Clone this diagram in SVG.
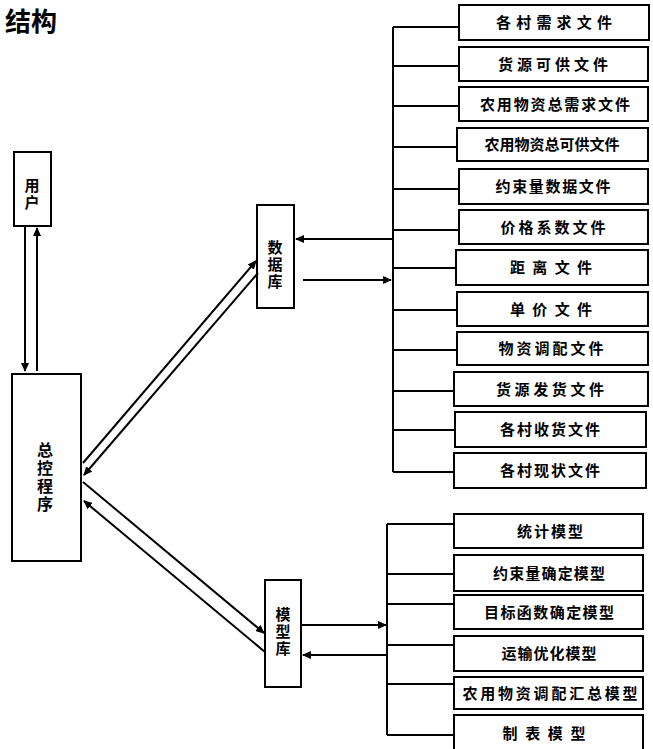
<svg xmlns="http://www.w3.org/2000/svg" width="653" height="749" viewBox="0 0 653 749">
<defs>
<marker id="ah" markerWidth="9" markerHeight="8" refX="8" refY="4" orient="auto" markerUnits="userSpaceOnUse">
<path d="M0,0 L9,4 L0,8 Z" fill="#000"/>
</marker>
<style>
rect{fill:#fff;stroke:#000;stroke-width:2}
.t{font-family:"Noto Sans CJK SC","Noto Sans",sans-serif;font-size:15px;font-weight:bold;fill:#000;text-anchor:middle}
.v{font-family:"Noto Sans CJK SC","Noto Sans",sans-serif;font-size:15px;font-weight:bold;fill:#000;text-anchor:middle;writing-mode:vertical-rl;letter-spacing:2px}
.l{stroke:#000;stroke-width:2;fill:none}
.a{stroke:#000;stroke-width:2;fill:none;marker-end:url(#ah)}
</style>
</defs>
<rect x="0" y="0" width="653" height="749" style="fill:#fff;stroke:none"/>
<text x="5" y="31" style="font-family:'Noto Sans CJK SC',sans-serif;font-size:26px;font-weight:bold">结构</text>

<g id="user"><rect x="14" y="152" width="37" height="74"/>
<text class="v" x="32" y="195">用户</text></g>

<g id="main"><rect x="12" y="374" width="69" height="187"/>
<text class="v" x="45" y="478" style="font-size:16px">总控程序</text></g>

<g id="db"><rect x="257" y="205" width="37" height="103"/>
<text class="v" x="275" y="265">数据库</text></g>

<g id="model"><rect x="265" y="580" width="36" height="107"/>
<text class="v" x="283" y="632">模型库</text></g>

<g id="connectors">
<path class="a" d="M25,226 V371"/>
<path class="a" d="M37,371 V228"/>
<path class="a" d="M83,463 L256,261"/>
<path class="a" d="M258,273 L84,475"/>
<path class="a" d="M83,482 L264,633"/>
<path class="a" d="M265,652 L84,501"/>
<path class="a" d="M392,239 H296"/>
<path class="a" d="M303,280 H391"/>
<path class="a" d="M301,625 H386"/>
<path class="a" d="M387,655 H303"/>
<path class="l" d="M393,27 V472"/>
<path class="l" d="M393,27 H459 M393,66 H459 M393,106 H459 M393,147 H457 M393,189 H459 M393,230 H459 M393,268 H456 M393,310 H457 M393,350 H457 M393,391 H454 M393,430 H455 M393,472 H454"/>
<path class="l" d="M387,524 V735"/>
<path class="l" d="M387,524 H454 M387,574 H454 M387,604 H454 M387,645 H454 M387,684 H454 M387,735 H454"/>
</g>

<g id="f1"><rect x="459" y="5" width="190" height="35"/><text class="t" x="554" y="28" textLength="116">各村需求文件</text></g>
<g id="f2"><rect x="459" y="47" width="189" height="34"/><text class="t" x="553" y="70" textLength="110">货源可供文件</text></g>
<g id="f3"><rect x="459" y="87" width="189" height="34"/><text class="t" x="555" y="110" textLength="150">农用物资总需求文件</text></g>
<g id="f4"><rect x="457" y="128" width="191" height="33"/><text class="t" x="552" y="150" textLength="135">农用物资总可供文件</text></g>
<g id="f5"><rect x="459" y="169" width="189" height="35"/><text class="t" x="553" y="192" textLength="115">约束量数据文件</text></g>
<g id="f6"><rect x="459" y="210" width="189" height="34"/><text class="t" x="553" y="233" textLength="105">价格系数文件</text></g>
<g id="f7"><rect x="456" y="250" width="192" height="35"/><text class="t" x="551" y="273" textLength="82">距 离 文 件</text></g>
<g id="f8"><rect x="457" y="292" width="191" height="34"/><text class="t" x="551" y="315" textLength="82">单 价 文 件</text></g>
<g id="f9"><rect x="457" y="332" width="191" height="33"/><text class="t" x="551" y="354" textLength="105">物资调配文件</text></g>
<g id="f10"><rect x="454" y="372" width="194" height="34"/><text class="t" x="550" y="395" textLength="108">货源发货文件</text></g>
<g id="f11"><rect x="455" y="412" width="191" height="35"/><text class="t" x="550" y="435" textLength="100">各村收货文件</text></g>
<g id="f12"><rect x="454" y="453" width="192" height="35"/><text class="t" x="550" y="476" textLength="100">各村现状文件</text></g>

<g id="m1"><rect x="454" y="514" width="189" height="34"/><text class="t" x="550" y="537" textLength="66">统计模型</text></g>
<g id="m2"><rect x="454" y="555" width="189" height="36"/><text class="t" x="549" y="579" textLength="112">约束量确定模型</text></g>
<g id="m3"><rect x="454" y="595" width="189" height="34"/><text class="t" x="549" y="618" textLength="130">目标函数确定模型</text></g>
<g id="m4"><rect x="454" y="636" width="189" height="35"/><text class="t" x="549" y="659" textLength="95">运输优化模型</text></g>
<g id="m5"><rect x="454" y="677" width="189" height="32"/><text class="t" x="550" y="699" textLength="175">农用物资调配汇总模型</text></g>
<g id="m6"><rect x="454" y="715" width="189" height="36"/><text class="t" x="544" y="739" textLength="83">制 表 模 型</text></g>
</svg>
